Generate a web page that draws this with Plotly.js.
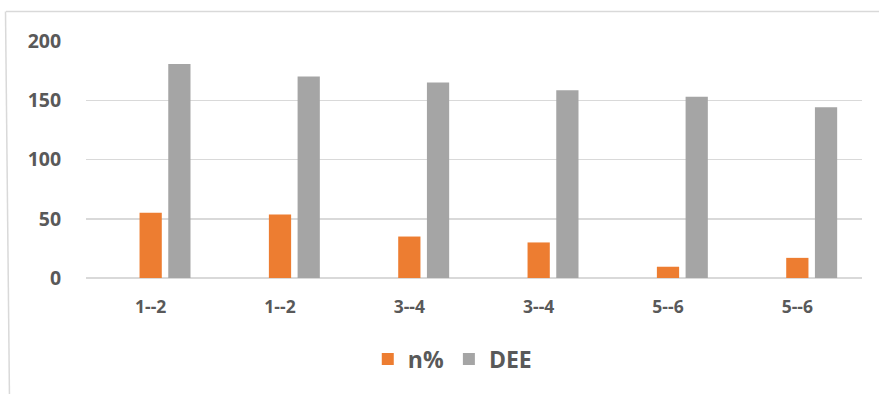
<!DOCTYPE html>
<html>
<head>
<meta charset="utf-8">
<script src="https://cdn.plot.ly/plotly-3.0.1.min.js"></script>
<style>html,body{margin:0;padding:0;background:#fff;}#chart{width:879px;height:394px;}</style>
</head>
<body>
<div id="chart"></div>
<script>
var categories = ["1--2", "1--2", "3--4", "3--4", "5--6", "5--6"];
var nPercent = [55, 53.5, 35, 30, 9.5, 17];
var dee = [180.5, 170, 165, 158.5, 153, 144];
var seriesNames = ["n%", "DEE"];
var yTicks = [0, 50, 100, 150, 200];

var positions = categories.map(function (c, i) { return i; });
var textColor = "#595959";
var fontFam = "'Open Sans', 'Liberation Sans', sans-serif";

var traces = [
  {
    type: "bar", name: seriesNames[0], x: positions, y: nPercent,
    width: 0.172, offset: -0.086,
    marker: { color: "#ED7D31" }, hoverinfo: "y"
  },
  {
    type: "bar", name: seriesNames[1], x: positions, y: dee,
    width: 0.172, offset: 0.136,
    marker: { color: "#A5A5A5" }, hoverinfo: "y"
  }
];

var layout = {
  width: 879, height: 394,
  margin: { l: 86, r: 17, t: 41, b: 116 },
  paper_bgcolor: "#ffffff", plot_bgcolor: "#ffffff",
  barmode: "overlay",
  showlegend: true,
  legend: {
    orientation: "h", x: 0.472, xanchor: "center", y: -0.342, yanchor: "middle",
    font: { family: fontFam, size: 23, color: textColor, weight: "bold" },
    itemwidth: 30, traceorder: "normal"
  },
  xaxis: {
    range: [-0.5, 5.5], tickvals: positions, ticktext: categories,
    showgrid: false, zeroline: false, showline: false,
    ticks: "outside", ticklen: 13, tickcolor: "rgba(0,0,0,0)",
    tickfont: { family: fontFam, size: 17.5, color: textColor, weight: "bold" },
    fixedrange: true
  },
  yaxis: {
    range: [0, 200], tickvals: yTicks,
    showgrid: true, gridcolor: "#D9D9D9", gridwidth: 1.5,
    zeroline: true, zerolinecolor: "#D9D9D9", zerolinewidth: 1.5,
    showline: false,
    ticks: "outside", ticklen: 20, tickcolor: "rgba(0,0,0,0)",
    tickfont: { family: fontFam, size: 19.5, color: textColor, weight: "bold" },
    fixedrange: true
  },
  shapes: [
    { type: "line", xref: "paper", yref: "paper",
      x0: (6 - 86) / 776, x1: 1.05, y0: (278 - 11.5) / 237, y1: (278 - 11.5) / 237,
      line: { color: "#D9D9D9", width: 1.5 } },
    { type: "line", xref: "paper", yref: "paper",
      x0: (5.5 - 86) / 776, x1: (9.5 - 86) / 776, y0: (278 - 11.5) / 237, y1: (278 - 400) / 237,
      line: { color: "#D9D9D9", width: 1.5 } }
  ]
};

Plotly.newPlot("chart", traces, layout, { displayModeBar: false, staticPlot: true });
</script>
</body>
</html>
